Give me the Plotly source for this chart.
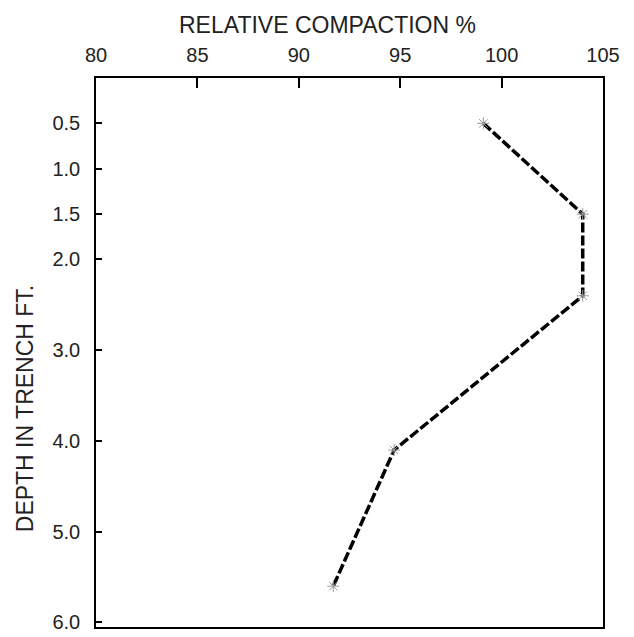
import plotly.graph_objects as go

compaction = [99.1, 104.0, 104.0, 94.7, 91.7]
depth = [0.5, 1.5, 2.4, 4.1, 5.6]

x_ticks = [80, 85, 90, 95, 100, 105]
y_ticks = [0.5, 1.0, 1.5, 2.0, 3.0, 4.0, 5.0, 6.0]
y_tick_text = ["0.5", "1.0", "1.5", "2.0", "3.0", "4.0", "5.0", "6.0"]

font_family = "Liberation Sans, Arial, sans-serif"

fig = go.Figure()
fig.add_trace(go.Scatter(
    x=compaction, y=depth, mode="lines+markers",
    line=dict(color="black", width=3.5, dash="10px,3px"),
    marker=dict(symbol="asterisk-open", size=10, color="#999999",
                line=dict(color="#999999", width=1)),
    showlegend=False,
))

fig.update_layout(
    width=626, height=629,
    margin=dict(l=88, r=31, t=70, b=4),
    paper_bgcolor="white", plot_bgcolor="white",
    font=dict(family=font_family, color="#222222", size=20),
    xaxis=dict(
        side="top", range=[80, 105], tickvals=x_ticks,
        ticks="inside", ticklen=10, tickcolor="black", tickwidth=1.5,
        showgrid=False, zeroline=False,
        showline=True, linecolor="black", linewidth=1.5, mirror=True,
        ticklabelstandoff=6,
    ),
    yaxis=dict(
        range=[6.05, 0], tickvals=y_ticks, ticktext=y_tick_text,
        ticks="inside", ticklen=6, tickcolor="black", tickwidth=1.5,
        showgrid=False, zeroline=False,
        showline=True, linecolor="black", linewidth=1.5, mirror=True,
        ticklabelstandoff=10, ticklabeloverflow="allow",
    ),
    annotations=[
        dict(
            text="RELATIVE COMPACTION %",
            xref="paper", x=0.5, xanchor="center", xshift=-22,
            yref="paper", y=1, yanchor="bottom", yshift=38,
            showarrow=False, font=dict(size=23),
        ),
        dict(
            text="DEPTH IN TRENCH FT.", textangle=-90,
            xref="paper", x=-0.14, xanchor="center",
            yref="y", y=3.65, yanchor="middle",
            showarrow=False, font=dict(size=23),
        ),
    ],
)

fig.write_html("out.html")
